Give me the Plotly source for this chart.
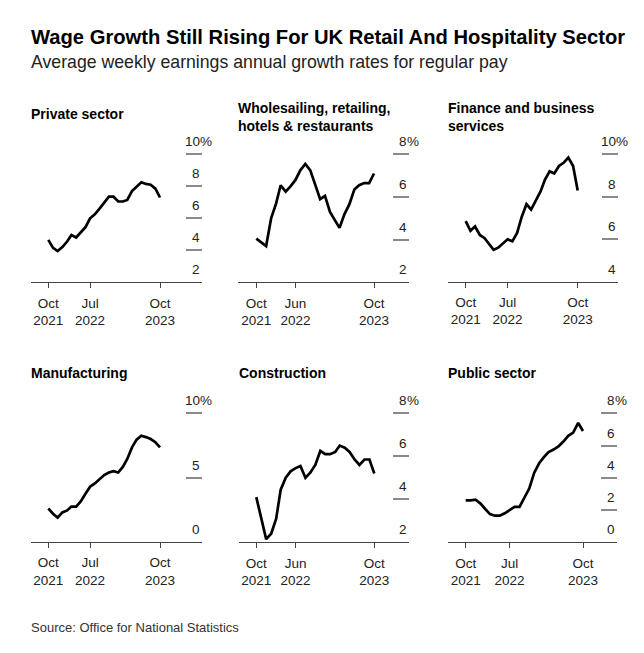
import plotly.graph_objects as go
import pandas as pd

# ---------------- data ----------------
months = ["2021-10-01", "2021-11-01", "2021-12-01", "2022-01-01", "2022-02-01",
          "2022-03-01", "2022-04-01", "2022-05-01", "2022-06-01", "2022-07-01",
          "2022-08-01", "2022-09-01", "2022-10-01", "2022-11-01", "2022-12-01",
          "2023-01-01", "2023-02-01", "2023-03-01", "2023-04-01", "2023-05-01",
          "2023-06-01", "2023-07-01", "2023-08-01", "2023-09-01", "2023-10-01"]

private_sector = [4.65, 4.15, 3.95, 4.2, 4.55, 4.95, 4.8, 5.1, 5.45, 6.0,
                  6.25, 6.6, 6.95, 7.35, 7.35, 7.05, 7.05, 7.15, 7.7, 7.95,
                  8.25, 8.15, 8.1, 7.85, 7.3]
wholesale_retail_hotels = [4.05, 3.85, 3.7, 5.0, 5.7, 6.55, 6.25, 6.5, 6.8, 7.25,
                           7.55, 7.25, 6.55, 5.9, 6.05, 5.3, 4.9, 4.55, 5.2, 5.65,
                           6.35, 6.55, 6.65, 6.65, 7.1]
finance_business = [6.85, 6.4, 6.6, 6.2, 6.05, 5.8, 5.5, 5.6, 5.8, 6.0,
                    5.9, 6.3, 7.05, 7.65, 7.4, 7.8, 8.25, 8.8, 9.2, 9.1,
                    9.45, 9.6, 9.85, 9.45, 8.3]
manufacturing = [2.6, 2.2, 1.9, 2.3, 2.45, 2.75, 2.75, 3.15, 3.75, 4.3,
                 4.55, 4.85, 5.2, 5.4, 5.5, 5.4, 5.85, 6.45, 7.35, 7.95,
                 8.25, 8.15, 8.0, 7.75, 7.35]
construction = [4.1, 3.1, 2.15, 2.4, 3.1, 4.45, 5.0, 5.3, 5.45, 5.55,
                5.0, 5.25, 5.6, 6.25, 6.1, 6.1, 6.2, 6.5, 6.4, 6.2,
                5.85, 5.6, 5.85, 5.85, 5.2]
public_sector = [2.6, 2.6, 2.65, 2.4, 2.05, 1.75, 1.65, 1.65, 1.8, 2.0,
                 2.2, 2.2, 2.8, 3.35, 4.3, 4.9, 5.3, 5.6, 5.75, 5.95,
                 6.25, 6.6, 6.8, 7.4, 6.9]

series = [private_sector, wholesale_retail_hotels, finance_business,
          manufacturing, construction, public_sector]

panel_titles = ["Private sector",
                "Wholesailing, retailing,<br>hotels & restaurants",
                "Finance and business<br>services",
                "Manufacturing",
                "Construction",
                "Public sector"]

y_tick_values = [[2, 4, 6, 8, 10], [2, 4, 6, 8], [4, 6, 8, 10],
                 [0, 5, 10], [2, 4, 6, 8], [0, 2, 4, 6, 8]]

x_tick_dates = [["2021-10-01", "2022-07-01", "2023-10-01"],
                ["2021-10-01", "2022-06-01", "2023-10-01"],
                ["2021-10-01", "2022-07-01", "2023-10-01"],
                ["2021-10-01", "2022-07-01", "2023-10-01"],
                ["2021-10-01", "2022-06-01", "2023-10-01"],
                ["2021-10-01", "2022-07-01", "2023-10-01"]]
x_tick_labels = [["Oct<br>2021", "Jul<br>2022", "Oct<br>2023"],
                 ["Oct<br>2021", "Jun<br>2022", "Oct<br>2023"],
                 ["Oct<br>2021", "Jul<br>2022", "Oct<br>2023"],
                 ["Oct<br>2021", "Jul<br>2022", "Oct<br>2023"],
                 ["Oct<br>2021", "Jun<br>2022", "Oct<br>2023"],
                 ["Oct<br>2021", "Jul<br>2022", "Oct<br>2023"]]

title_text = "Wage Growth Still Rising For UK Retail And Hospitality Sector"
subtitle_text = "Average weekly earnings annual growth rates for regular pay"
source_text = "Source: Office for National Statistics"

# ---------------- layout geometry (pixels) ----------------
W, H = 644, 653
FONT = "Liberation Sans, Arial, sans-serif"

geom = [
    dict(L=31.0, R=202.0, p0=48.3, p1=160.0, yb=282.3, yt=154.3, ty=113.5),
    dict(L=238.3, R=409.0, p0=256.3, p1=374.0, yb=282.3, yt=154.3, ty=116.7),
    dict(L=448.3, R=617.5, p0=465.7, p1=577.7, yb=281.7, yt=154.3, ty=116.7),
    dict(L=31.0, R=202.0, p0=48.3, p1=160.0, yb=542.0, yt=413.3, ty=373.3),
    dict(L=239.0, R=408.7, p0=256.3, p1=374.3, yb=542.3, yt=413.3, ty=373.3),
    dict(L=447.7, R=617.0, p0=465.7, p1=583.0, yb=542.3, yt=413.3, ty=373.3),
]


def px_x(p):
    return p / W


def px_y(p):
    return 1 - p / H


fig = go.Figure()
annotations = []
t_first = pd.Timestamp("2021-10-01")
t_last = pd.Timestamp("2023-10-01")
span = t_last - t_first

for i, (vals, g, ticks) in enumerate(zip(series, geom, y_tick_values)):
    n = i + 1
    xa = "x" if n == 1 else f"x{n}"
    ya = "y" if n == 1 else f"y{n}"
    xkey = "xaxis" if n == 1 else f"xaxis{n}"
    ykey = "yaxis" if n == 1 else f"yaxis{n}"

    fig.add_trace(go.Scatter(x=months, y=vals, mode="lines",
                             line=dict(color="#000000", width=2.7),
                             xaxis=xa, yaxis=ya, hoverinfo="skip",
                             showlegend=False))

    left = t_first + (g["L"] - g["p0"]) / (g["p1"] - g["p0"]) * span
    right = t_first + (g["R"] - g["p0"]) / (g["p1"] - g["p0"]) * span

    ymin, ymax_lab = ticks[0], ticks[-1]
    ppu = (g["yb"] - g["yt"]) / (ymax_lab - ymin)
    pad = 0.08 * (ymax_lab - ymin)
    top_px = g["yt"] - pad * ppu

    fig.layout[xkey] = dict(
        type="date", domain=[px_x(g["L"]), px_x(g["R"])],
        range=[left.strftime("%Y-%m-%d %H:%M"), right.strftime("%Y-%m-%d %H:%M")],
        anchor=ya, showgrid=False, zeroline=False,
        showline=True, linecolor="#444444", linewidth=1,
        ticks="outside", ticklen=5, tickcolor="#444444", tickwidth=1,
        tickvals=x_tick_dates[i], ticktext=x_tick_labels[i],
        tickfont=dict(family=FONT, size=13.5, color="#222222"),
        ticklabelstandoff=3, fixedrange=True)
    fig.layout[ykey] = dict(
        domain=[px_y(g["yb"]), px_y(top_px)],
        range=[ymin, ymax_lab + pad], anchor=xa, side="right",
        showgrid=False, zeroline=False, showline=False,
        ticks="inside", ticklen=16, tickcolor="#8a8a8a", tickwidth=1.5,
        tickvals=ticks[1:], showticklabels=False, fixedrange=True)

    for v in ticks:
        annotations.append(dict(
            xref="paper", yref=ya, x=px_x(g["R"]), y=v,
            xanchor="right", yanchor="bottom", yshift=3,
            text=str(v), showarrow=False,
            font=dict(family=FONT, size=13.5, color="#222222")))
    annotations.append(dict(
        xref="paper", yref=ya, x=px_x(g["R"]), y=ymax_lab,
        xanchor="left", yanchor="bottom", yshift=3, xshift=-4,
        text="%", showarrow=False,
        font=dict(family=FONT, size=13.5, color="#222222")))

    annotations.append(dict(
        xref="paper", yref="paper", x=px_x(g["L"]), y=px_y(g["ty"]),
        xanchor="left", yanchor="middle", align="left", xshift=-2,
        text=f"<b>{panel_titles[i]}</b>", showarrow=False,
        font=dict(family=FONT, size=14, color="#000000")))

annotations.append(dict(
    xref="paper", yref="paper", x=px_x(29), y=px_y(36.5),
    xanchor="left", yanchor="middle", text=f"<b>{title_text}</b>",
    showarrow=False, font=dict(family=FONT, size=20.2, color="#000000")))
annotations.append(dict(
    xref="paper", yref="paper", x=px_x(29), y=px_y(62.5),
    xanchor="left", yanchor="middle", text=subtitle_text,
    showarrow=False, font=dict(family=FONT, size=17.7, color="#222222")))
annotations.append(dict(
    xref="paper", yref="paper", x=px_x(29), y=px_y(627.5),
    xanchor="left", yanchor="middle", text=source_text,
    showarrow=False, font=dict(family=FONT, size=13, color="#333333")))

fig.update_layout(
    width=W, height=H, margin=dict(l=0, r=0, t=0, b=0),
    paper_bgcolor="#ffffff", plot_bgcolor="#ffffff",
    annotations=annotations, showlegend=False)

fig.write_html("out.html", include_plotlyjs=True, config={"displayModeBar": False},
               post_script="document.body.style.margin='0';document.body.style.overflow='hidden';")
